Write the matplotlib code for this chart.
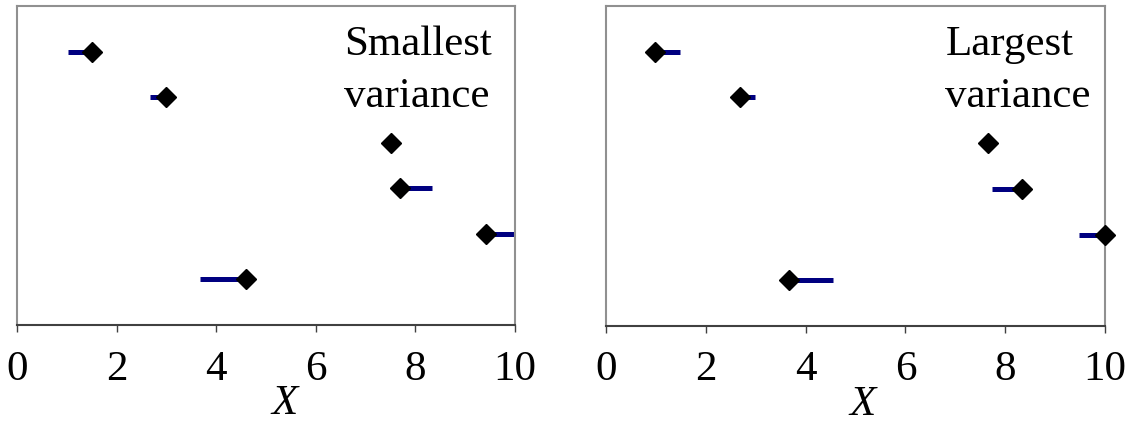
import numpy as np
import matplotlib.pyplot as plt

# data
rows = [6, 5, 4, 3, 2, 1]
small_x = [1.50, 3.00, 7.50, 7.70, 9.42, 4.60]
small_end = [1.02, 2.68, 7.50, 8.33, 10.0, 3.67]
large_x = [0.98, 2.68, 7.65, 8.34, 10.0, 3.67]
large_end = [1.48, 2.98, 7.65, 7.74, 9.47, 4.55]
xticks = [0, 2, 4, 6, 8, 10]
labels = ["Smallest\nvariance", "Largest\nvariance"]
label_x = [6.57, 6.8]
xlab_pos = [0.538, 0.515]

plt.rcParams['font.family'] = ['Liberation Serif', 'DejaVu Serif']

fig = plt.figure(figsize=(11.29, 4.24), dpi=100)
ax1 = fig.add_axes([17 / 1129, 1 - 325 / 424, 498 / 1129, 319 / 424])
ax2 = fig.add_axes([606 / 1129, 1 - 326 / 424, 499 / 1129, 320 / 424])

for ax, px, pend, lab, lx, xl in [(ax1, small_x, small_end, labels[0], label_x[0], xlab_pos[0]),
                                  (ax2, large_x, large_end, labels[1], label_x[1], xlab_pos[1])]:
    px = np.array(px)
    pend = np.array(pend)
    lo = np.clip(px - pend, 0, None)
    hi = np.clip(pend - px, 0, None)
    ax.errorbar(px, rows, xerr=[lo, hi], fmt='none', ecolor='#000080',
                elinewidth=3.6, capsize=0, zorder=2)
    ax.plot(px, rows, 'D', color='black', markersize=10.5, clip_on=False, zorder=3)
    ax.set_xlim(0, 10)
    ax.set_ylim(0, 7)
    ax.set_yticks([])
    ax.set_xticks(xticks)
    ax.set_xticklabels([str(t) for t in xticks], fontsize=31)
    ax.tick_params(axis='x', direction='out', length=5, width=1, color='#404040', pad=13)
    for s in ['left', 'top', 'right']:
        ax.spines[s].set_color('#909090')
        ax.spines[s].set_linewidth(1.5)
    ax.spines['bottom'].set_color('#404040')
    ax.spines['bottom'].set_linewidth(1.5)
    ax.set_xlabel('X', fontsize=31, style='italic')
    ax.xaxis.set_label_coords(xl, -0.185)
    # two lines of the label, placed one by one
    for line, ly in zip(lab.split('\n'), [5.92, 4.78]):
        ax.text(lx, ly, line, fontsize=31, ha='left', va='baseline')

fig.savefig('out.png', dpi=100)
